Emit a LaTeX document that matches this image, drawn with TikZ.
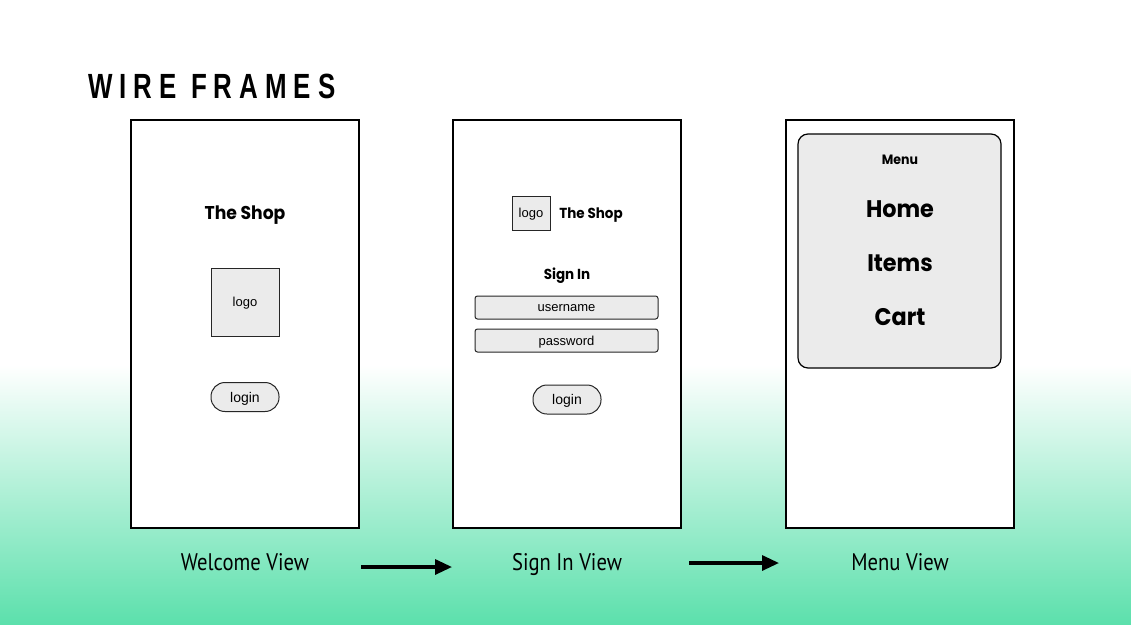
\documentclass[tikz,border=0pt]{standalone}
\usepackage{fontspec}
\setmainfont{Liberation Sans}
\newfontfamily\shopfont[FakeStretch=0.93]{Poppins}
\newfontfamily\titlefont[LetterSpace=20,FakeStretch=0.74]{Liberation Sans}
\newfontfamily\viewfont[FakeStretch=0.86]{PT Sans}
\usetikzlibrary{arrows.meta}
\definecolor{mint}{RGB}{92,224,172}
\definecolor{widget}{RGB}{235,235,235}
\tikzset{
  screen/.style={draw=black, line width=1.6pt, fill=white, minimum width=228pt, minimum height=408pt, inner sep=0pt},
  boxwidget/.style={draw=black!85, line width=1pt, fill=widget, inner sep=0pt, text depth=0pt, font=\fontsize{13}{15}\selectfont},
  pill/.style={boxwidget, rounded corners=14pt, minimum width=68pt, minimum height=29pt, font=\fontsize{14}{16}\selectfont},
  field/.style={boxwidget, rounded corners=2.5pt, minimum width=183pt, minimum height=23pt},
  heading/.style={font=\shopfont\bfseries\fontsize{18.5}{22}\selectfont, inner sep=0pt, anchor=base},
  subheading/.style={heading, font=\shopfont\bfseries\fontsize{14.5}{18}\selectfont},
  bigitem/.style={heading, font=\shopfont\bfseries\fontsize{24}{28}\selectfont},
  viewlabel/.style={font=\viewfont\fontsize{24}{28}\selectfont, inner sep=0pt, anchor=base},
  flow/.style={line width=3.2pt, -{Triangle[length=17pt,width=15pt]}}
}
\begin{document}
\begin{tikzpicture}[x=1pt,y=-1pt]
  % page background: white top fading into mint
  \fill[white] (0,0) rectangle (1131,366);
  \shade[top color=white, bottom color=mint] (0,365) rectangle (1131,624);
  \useasboundingbox (0,0) rectangle (1131,624);

  % title
  \node[anchor=base west, inner sep=0pt, font=\titlefont\bfseries\fontsize{35}{40}\selectfont] (title) at (88,98) {WIRE FRAMES};

  % welcome screen
  \node[screen] (s1) at (245,324) {};
  \node[heading] (shop1) at (245,219.5) {The Shop};
  \node[boxwidget, minimum width=68pt, minimum height=68pt] (logo1) at (245,302) {logo};
  \node[pill] (login1) at (245,397) {login};

  % sign in screen
  \node[screen] (s2) at (567,324) {};
  \node[boxwidget, minimum width=38pt, minimum height=34pt] (logo2) at (531,213) {logo};
  \node[subheading] (shop2) at (591,218) {The Shop};
  \node[subheading] (signin) at (567,279) {Sign In};
  \node[field] (user) at (566.5,307.5) {username};
  \node[field] (pass) at (566.5,340.5) {password};
  \node[pill] (login2) at (567,399.5) {login};

  % menu screen
  \node[screen] (s3) at (900,324) {};
  \node[draw=black, line width=1.2pt, fill=widget, rounded corners=10pt, minimum width=203pt, minimum height=234pt, inner sep=0pt] (menu) at (899.5,251) {};
  \node[subheading, font=\shopfont\bfseries\fontsize{13.5}{16}\selectfont] (mtitle) at (900,164.5) {Menu};
  \node[bigitem] (home) at (900,217.5) {Home};
  \node[bigitem] (items) at (900,271.5) {Items};
  \node[bigitem] (cart) at (900,325.5) {Cart};

  % view captions
  \node[viewlabel] (v1) at (245,570) {Welcome View};
  \node[viewlabel] (v2) at (567,570) {Sign In View};
  \node[viewlabel] (v3) at (900,570) {Menu View};

  % flow arrows between the views
  \coordinate (a1s) at (361,567);
  \coordinate (a1e) at (452,567);
  \coordinate (a2s) at (689,563);
  \coordinate (a2e) at (779,563);
  \draw[flow] (a1s) -- (a1e);
  \draw[flow] (a2s) -- (a2e);
\end{tikzpicture}
\end{document}
